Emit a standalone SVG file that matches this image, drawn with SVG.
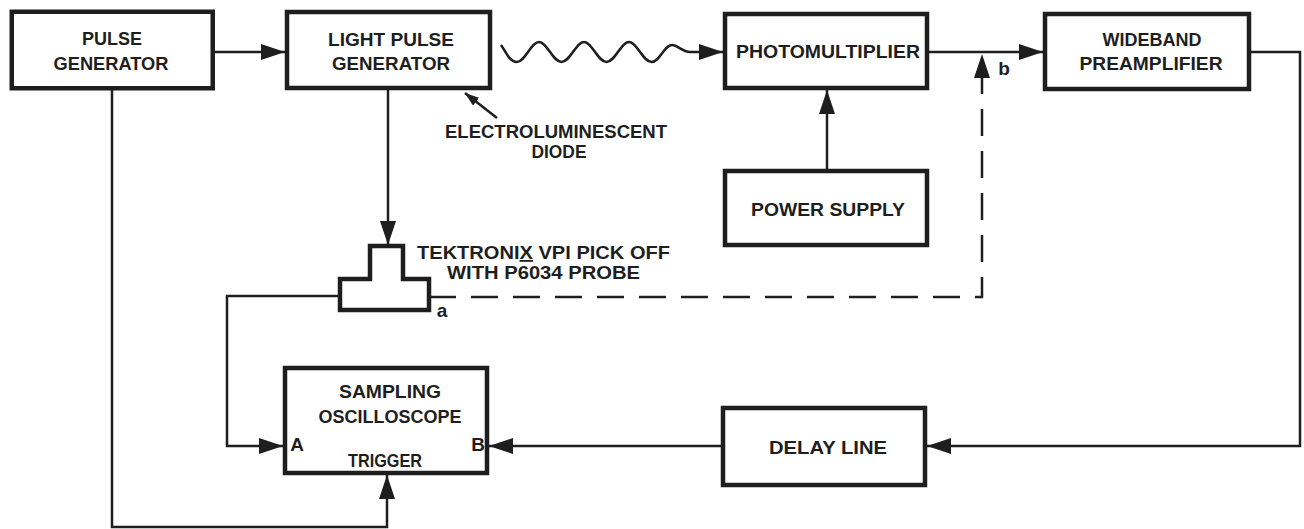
<svg xmlns="http://www.w3.org/2000/svg" width="1304" height="529" viewBox="0 0 1304 529">
<style>
.box{fill:#fff;stroke:#1e1e1e;stroke-width:4.5}
.ln{fill:none;stroke:#1e1e1e;stroke-width:2.5}
.dash{fill:none;stroke:#1e1e1e;stroke-width:2.5;stroke-dasharray:27 15}
text{font-family:"Liberation Sans",Arial,sans-serif;font-weight:bold;font-size:19px;fill:#1e1e1e}
.m{text-anchor:middle}
.s{font-size:18px}
</style>
<defs>
<marker id="ah" markerUnits="userSpaceOnUse" markerWidth="24" markerHeight="16" refX="24" refY="8" orient="auto"><path d="M0,0 L24,8 L0,16 z" fill="#1e1e1e"/></marker>
<marker id="ahs" markerUnits="userSpaceOnUse" markerWidth="14" markerHeight="10" refX="14" refY="5" orient="auto"><path d="M0,0 L14,5 L0,10 z" fill="#1e1e1e"/></marker>
</defs>
<rect width="1304" height="529" fill="#fff"/>
<g id="connectors">
<line class="ln" x1="215" y1="52" x2="285" y2="52" marker-end="url(#ah)"/>
<path class="ln" d="M501 45 C505 50,509 62,517 62 C525 62,531 42,539 42 C547 42,553 62,561.5 62 C570 62,576 42,584 42 C592 42,598 62,606.5 62 C615 62,621 42,629 42 C637 42,643 62,651.5 62 C660 62,664 45,672 45 C678 45,682 52,690 52 L723 52" marker-end="url(#ah)"/>
<line class="ln" x1="929" y1="52" x2="1043" y2="52" marker-end="url(#ah)"/>
<polyline class="ln" points="1251,52 1300,52 1300,446 927,446" marker-end="url(#ah)"/>
<line class="ln" x1="721" y1="446" x2="489" y2="446" marker-end="url(#ah)"/>
<line class="ln" x1="827" y1="169" x2="827" y2="90" marker-end="url(#ah)"/>
<line class="ln" x1="388" y1="90" x2="388" y2="245" marker-end="url(#ah)"/>
<polyline class="ln" points="340,296 227,296 227,446 283,446" marker-end="url(#ah)"/>
<polyline class="ln" points="112,90 112,527 387,527 387,475" marker-end="url(#ah)"/>
<polyline class="dash" points="429,297 982,297 982,54" marker-end="url(#ah)"/>
<line class="ln" x1="497" y1="118" x2="465" y2="93" marker-end="url(#ahs)"/>
</g>
<g id="pulse-generator">
<rect class="box" x="11.75" y="11.75" width="201" height="76.5"/>
<text class="m" x="112" y="45" textLength="60" lengthAdjust="spacingAndGlyphs">PULSE</text>
<text class="m" x="111" y="70" textLength="115" lengthAdjust="spacingAndGlyphs">GENERATOR</text>
</g>
<g id="light-pulse-generator">
<rect class="box" x="287" y="12" width="203" height="76"/>
<text class="m" x="391" y="46" textLength="126" lengthAdjust="spacingAndGlyphs">LIGHT PULSE</text>
<text class="m" x="391" y="70" textLength="118" lengthAdjust="spacingAndGlyphs">GENERATOR</text>
</g>
<g id="photomultiplier">
<rect class="box" x="725" y="14" width="202" height="74"/>
<text class="m" x="828" y="58" textLength="184" lengthAdjust="spacingAndGlyphs">PHOTOMULTIPLIER</text>
</g>
<g id="wideband-preamplifier">
<rect class="box" x="1045" y="14" width="204" height="75"/>
<text class="m" x="1152" y="46" textLength="99" lengthAdjust="spacingAndGlyphs">WIDEBAND</text>
<text class="m" x="1151" y="70" textLength="143" lengthAdjust="spacingAndGlyphs">PREAMPLIFIER</text>
</g>
<g id="power-supply">
<rect class="box" x="725" y="171" width="202" height="74"/>
<text class="m" x="828" y="216" textLength="154" lengthAdjust="spacingAndGlyphs">POWER SUPPLY</text>
</g>
<g id="delay-line">
<rect class="box" x="723" y="408" width="202" height="77"/>
<text class="m" x="828" y="454" textLength="118" lengthAdjust="spacingAndGlyphs">DELAY LINE</text>
</g>
<g id="sampling-oscilloscope">
<rect class="box" x="285" y="368" width="202" height="105"/>
<text class="m" x="390" y="398" textLength="102" lengthAdjust="spacingAndGlyphs">SAMPLING</text>
<text class="m" x="390" y="423" textLength="143" lengthAdjust="spacingAndGlyphs">OSCILLOSCOPE</text>
<text class="m" x="297" y="451">A</text>
<text class="m" x="478" y="451">B</text>
<text class="m" x="385" y="467" textLength="74" lengthAdjust="spacingAndGlyphs">TRIGGER</text>
</g>
<g id="pick-off">
<path class="box" d="M340 279 L370 279 L370 246 L403 246 L403 279 L429 279 L429 310 L340 310 Z"/>
<text class="s" x="417" y="259" textLength="253" lengthAdjust="spacingAndGlyphs">TEKTRONI<tspan text-decoration="underline">X</tspan> VPI PICK OFF</text>
<text class="s" x="447" y="279" textLength="193" lengthAdjust="spacingAndGlyphs">WITH P6034 PROBE</text>
<text class="m" x="442" y="317">a</text>
</g>
<g id="label-b">
<text class="m" x="1004" y="75">b</text>
</g>
<g id="electroluminescent-diode">
<text class="m s" x="556" y="138" textLength="222" lengthAdjust="spacingAndGlyphs">ELECTROLUMINESCENT</text>
<text class="m s" x="559" y="158" textLength="55" lengthAdjust="spacingAndGlyphs">DIODE</text>
</g>
</svg>
